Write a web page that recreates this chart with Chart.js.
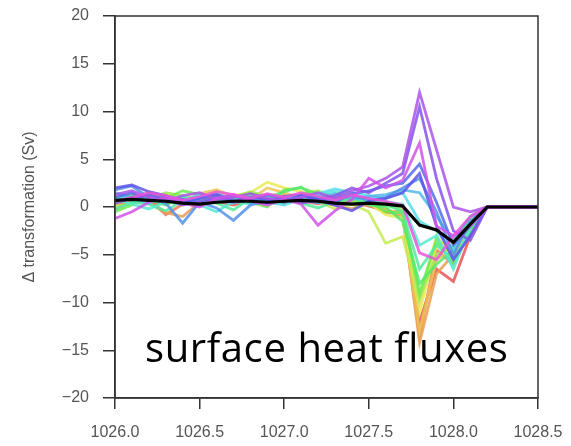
<!DOCTYPE html>
<html lang="en">
<head>
    <meta charset="UTF-8">
    <title>surface heat fluxes</title>
    <script src="https://cdn.jsdelivr.net/npm/chart.js@4/dist/chart.umd.min.js"></script>
    <style>
        body { margin: 0; background: #fff; }
        #wrap { position: relative; width: 571px; height: 446px; }
        #label {
            position: absolute; left: 145px; top: 327px;
            font-family: "Open Sans", sans-serif; font-size: 40px; line-height: 1;
            letter-spacing: 0.6px; color: #000; white-space: nowrap;
        }
    </style>
</head>
<body>
    <div id="wrap">
        <canvas id="chart" width="571" height="446"></canvas>
        <div id="label">surface heat fluxes</div>
    </div>

    <script>
        // neutral density bins (kg/m3)
        const densities = [1026.0, 1026.1, 1026.2, 1026.3, 1026.4, 1026.5, 1026.6, 1026.7, 1026.8, 1026.9,
                           1027.0, 1027.1, 1027.2, 1027.3, 1027.4, 1027.5, 1027.6, 1027.7, 1027.8, 1027.9,
                           1028.0, 1028.1, 1028.2, 1028.3, 1028.4, 1028.5];
        const yTicks = [-20, -15, -10, -5, 0, 5, 10, 15, 20];
        const xTicks = [1026.0, 1026.5, 1027.0, 1027.5, 1028.0, 1028.5];

        // one line per ensemble member, ordered red -> magenta
        const run01 = [0.8, 1.2, 0.5, 0.3, 0.9, 1.0, 0.6, 0.2, 0.7, 1.1, 0.8, 0.5, 0.9, 0.4, 0.6, 0.2, -0.5, -0.8, -12.0, -6.5, -7.8, -3.0, 0, 0, 0, 0];
        const run02 = [0.2, 0.5, 0.9, -0.8, 0.3, 0.6, 1.0, 0.8, 0.4, 0.9, 1.2, 0.7, 0.3, 0.8, 0.5, 0.1, -0.3, -1.0, -13.5, -4.5, -6.0, -2.5, 0, 0, 0, 0];
        const run03 = [-0.3, 0.6, 0.4, -0.6, -1.0, 0.5, 0.8, 1.2, 0.6, 0.4, 0.9, 1.0, 0.5, 0.2, -0.2, 0.4, -0.6, -0.4, -14.2, -7.0, -5.0, -1.5, 0, 0, 0, 0];
        const run04 = [1.0, 0.7, 1.3, 0.9, 0.5, 1.4, 1.8, 1.1, 0.8, 2.0, 1.5, 0.9, 1.2, 0.6, 0.8, 0.3, -0.2, -0.9, -13.0, -5.5, -4.5, -2.0, 0, 0, 0, 0];
        const run05 = [0.5, 0.9, 1.1, 1.4, 0.8, 1.0, 1.6, 1.2, 1.5, 2.6, 2.0, 1.6, 1.0, 0.7, 0.9, 0.4, -0.8, -1.2, -11.0, -4.0, -3.5, -1.0, 0, 0, 0, 0];
        const run06 = [0.0, 0.4, 1.6, 1.0, 0.6, 0.2, 0.9, 0.5, 1.3, 0.8, 0.3, 1.1, 0.6, -0.2, 0.3, -0.5, -3.8, -3.1, -10.0, -3.0, -5.5, -2.0, 0, 0, 0, 0];
        const run07 = [0.3, 1.0, 0.7, 1.5, 1.2, 0.8, 0.4, 1.0, 1.6, 1.1, 0.6, 1.3, 1.7, 0.9, 0.5, 0.7, 0.2, -0.3, -9.5, -5.0, -4.0, -1.5, 0, 0, 0, 0];
        const run08 = [-0.5, 0.2, 1.4, 0.9, 1.7, 1.3, 0.6, 1.1, 0.5, 0.0, 1.8, 2.0, 1.4, 1.0, 0.4, 0.6, -0.5, -0.6, -9.0, -3.5, -6.0, -2.5, 0, 0, 0, 0];
        const run09 = [0.6, 1.3, 0.8, 0.2, 1.0, 0.5, 1.2, 0.9, 1.4, 1.0, 1.6, 2.1, 0.8, 0.5, 1.1, 0.2, 0.0, -1.5, -8.0, -6.0, -4.5, -1.0, 0, 0, 0, 0];
        const run10 = [-0.2, 0.5, 0.3, -0.4, 0.7, 1.1, 0.4, -0.3, 0.9, 0.6, 1.0, 0.4, -0.1, 0.6, 0.9, 0.5, 0.3, -0.5, -6.5, -4.0, -5.5, -2.5, 0, 0, 0, 0];
        const run11 = [0.9, 0.3, -0.2, 0.5, 1.1, 0.2, -0.5, 0.6, 0.3, 0.8, 0.5, 1.0, 1.3, 1.6, 1.2, 0.8, 0.5, 0.3, -4.0, -3.0, -6.5, -2.0, 0, 0, 0, 0];
        const run12 = [1.2, 0.8, 0.4, 1.0, 0.6, 1.3, 0.7, 0.4, 1.1, 0.5, 0.2, 0.9, 1.4, 1.9, 1.5, 1.2, 0.9, 1.5, -1.5, -2.5, -4.5, -1.5, 0, 0, 0, 0];
        const run13 = [1.5, 1.0, 1.2, 0.7, 0.3, 0.9, 1.4, 0.8, 0.5, 1.2, 0.9, 0.6, 1.0, 1.4, 0.8, 1.1, 1.3, 1.8, 1.5, -1.0, -3.5, -1.0, 0, 0, 0, 0];
        const run14 = [1.8, 2.2, 1.0, 0.4, -1.7, 0.5, -0.1, -1.4, 0.2, 0.7, 1.0, 0.8, 0.4, 0.9, 1.2, 0.7, 1.0, 2.0, 3.0, -0.5, -5.0, -1.5, 0, 0, 0, 0];
        const run15 = [1.0, 1.5, 0.6, 1.1, 0.8, 0.3, 0.9, 1.2, 0.7, 0.4, 1.1, 1.3, 0.9, 0.5, 1.4, 1.7, 2.2, 2.5, 4.5, 0.5, -4.0, -2.0, 0, 0, 0, 0];
        const run16 = [2.0, 2.3, 1.6, 1.2, 0.5, 0.9, 1.3, 0.6, 1.0, 0.8, 0.5, 1.2, 0.7, 0.2, -0.4, 0.6, 0.9, 1.5, 3.5, -2.0, -5.5, -3.0, 0, 0, 0, 0];
        const run17 = [0.4, 0.9, 1.3, 0.8, 0.2, 0.6, 1.0, 0.5, 0.8, 1.3, 0.9, 0.4, 0.7, 1.2, 2.0, 1.5, 2.5, 3.5, 10.5, 3.0, -2.5, -3.5, 0, 0, 0, 0];
        const run18 = [1.3, 1.7, 1.0, 0.6, 1.2, 1.5, 0.8, 1.0, 1.4, 0.9, 0.6, 1.0, 1.5, 0.9, 1.7, 2.2, 3.0, 4.2, 12.0, 6.0, 0.0, -0.5, 0, 0, 0, 0];
        const run19 = [-1.2, -0.5, 0.5, 1.0, 0.4, 0.0, 0.9, 1.3, 0.6, 0.2, 0.8, 0.3, -1.9, -0.4, 0.8, 3.0, 2.0, 2.8, 6.7, -2.0, -3.0, -2.0, 0, 0, 0, 0];
        const run20 = [0.6, 1.0, 1.5, 1.2, 0.7, 1.1, 1.6, 1.3, 0.9, 1.4, 1.0, 1.5, 1.1, 0.7, 1.3, 0.9, 0.6, 0.2, -4.8, -5.5, -3.0, -1.0, 0, 0, 0, 0];
        const ensembleMean = [0.7, 0.8, 0.7, 0.6, 0.4, 0.3, 0.5, 0.6, 0.6, 0.5, 0.6, 0.7, 0.6, 0.4, 0.3, 0.4, 0.3, 0.1, -1.9, -2.4, -3.7, -1.8, 0, 0, 0, 0];

        const runs = [run01, run02, run03, run04, run05, run06, run07, run08, run09, run10,
                      run11, run12, run13, run14, run15, run16, run17, run18, run19, run20];
        const hues = [0, 15, 30, 45, 60, 75, 90, 110, 130, 150, 170, 185, 200, 215, 230, 245, 260, 275, 290, 305];

        function toPoints(vals) {
            return vals.map((v, i) => ({ x: densities[i], y: v }));
        }

        // lower "order" is drawn on top: red at the bottom, magenta above, mean on top of all
        const datasets = runs.map((r, i) => ({
            data: toPoints(r),
            borderColor: `hsla(${hues[i]}, 78%, 62%, 0.85)`,
            borderWidth: 2.8,
            pointRadius: 0,
            tension: 0,
            order: 100 - i
        }));
        datasets.push({
            data: toPoints(ensembleMean),
            borderColor: '#000',
            borderWidth: 3.2,
            pointRadius: 0,
            tension: 0,
            order: 0
        });

        // box around the plot area (top + right sides too)
        const frame = {
            id: 'frame',
            afterDraw(chart) {
                const a = chart.chartArea;
                const ctx = chart.ctx;
                ctx.save();
                ctx.strokeStyle = '#333';
                ctx.lineWidth = 1.5;
                ctx.strokeRect(a.left, a.top, a.right - a.left, a.bottom - a.top);
                ctx.restore();
            }
        };

        const tickFont = { family: '"Liberation Sans", Arial, sans-serif', size: 16 };

        new Chart(document.getElementById('chart'), {
            type: 'line',
            data: { datasets: datasets },
            plugins: [frame],
            options: {
                responsive: false,
                animation: false,
                layout: { padding: { left: 0, top: 16, right: 33, bottom: 0 } },
                plugins: { legend: { display: false }, tooltip: { enabled: false } },
                scales: {
                    x: {
                        type: 'linear',
                        min: 1026.0,
                        max: 1028.5,
                        afterFit(scale) {
                            scale.height = 48;
                            scale.paddingLeft = 0;
                            scale.paddingRight = 0;
                        },
                        afterBuildTicks(scale) { scale.ticks = xTicks.map(v => ({ value: v })); },
                        grid: { drawOnChartArea: false, drawTicks: true, tickLength: 11, color: '#333', lineWidth: 1.5 },
                        border: { display: true, color: '#333', width: 1.5 },
                        ticks: { color: '#555', font: tickFont, padding: 14, maxRotation: 0,
                                 callback: v => v.toFixed(1) }
                    },
                    y: {
                        min: -20,
                        max: 20,
                        afterFit(scale) {
                            scale.width = 115;
                            scale.paddingTop = 0;
                            scale.paddingBottom = 0;
                        },
                        afterBuildTicks(scale) { scale.ticks = yTicks.map(v => ({ value: v })); },
                        grid: { drawOnChartArea: false, drawTicks: true, tickLength: 12, color: '#333', lineWidth: 1.5 },
                        border: { display: true, color: '#333', width: 1.5 },
                        ticks: { color: '#555', font: tickFont, padding: 14,
                                 callback: v => v < 0 ? '\u2212' + Math.abs(v) : String(v) },
                        title: {
                            display: true,
                            text: '\u0394 transformation (Sv)',
                            color: '#555',
                            font: tickFont,
                            padding: { top: 20, bottom: 0 }
                        }
                    }
                }
            }
        });
    </script>
</body>
</html>
